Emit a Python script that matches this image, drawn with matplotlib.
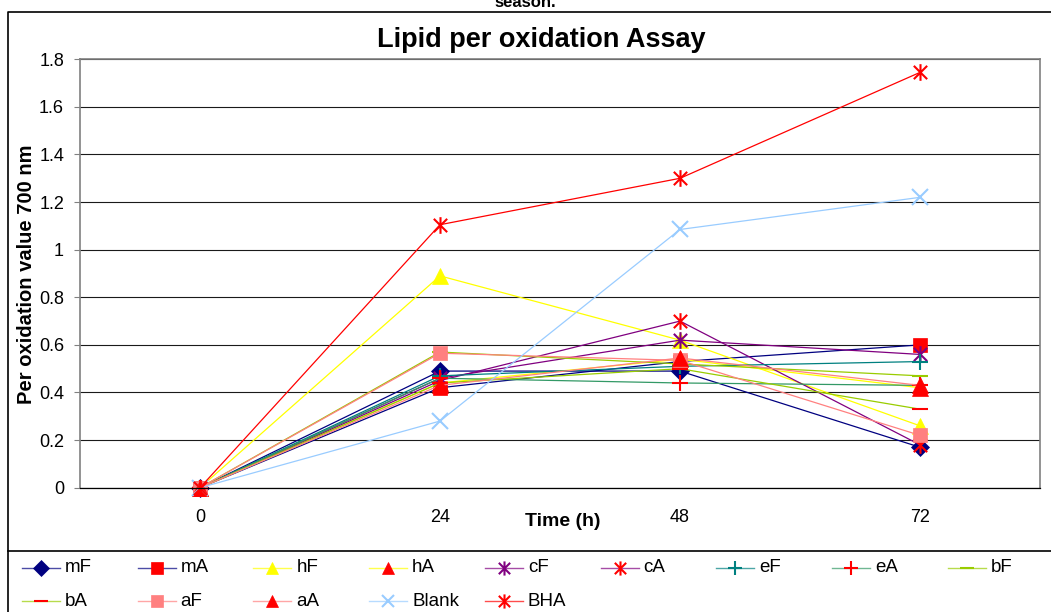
import matplotlib
matplotlib.use("Agg")
import matplotlib.pyplot as plt
from matplotlib.path import Path

plt.rcParams.update({"font.family": ["Liberation Sans", "DejaVu Sans"],
                     "font.size": 12})

# ---- data ----
times = ["0", "24", "48", "72"]
mF = [0.0, 0.49, 0.49, 0.17]
mA = [0.0, 0.42, 0.53, 0.60]
hF = [0.0, 0.89, 0.62, 0.26]
hA = [0.0, 0.44, 0.54, 0.42]
cF = [0.0, 0.46, 0.62, 0.56]
cA = [0.0, 0.45, 0.70, 0.18]
eF = [0.0, 0.47, 0.51, 0.53]
eA = [0.0, 0.46, 0.44, 0.43]
bF = [0.0, 0.57, 0.52, 0.47]
bA = [0.0, 0.44, 0.50, 0.33]
aF = [0.0, 0.565, 0.535, 0.22]
aA = [0.0, 0.43, 0.545, 0.43]
blank = [0.0, 0.28, 1.085, 1.22]
bha = [0.0, 1.105, 1.30, 1.745]

names = ["mF", "mA", "hF", "hA", "cF", "cA", "eF", "eA", "bF",
         "bA", "aF", "aA", "Blank", "BHA"]
series = [mF, mA, hF, hA, cF, cA, eF, eA, bF, bA, aF, aA, blank, bha]

# asterisk like Excel's star marker: X plus a vertical bar
STAR = Path([(-1, -1), (1, 1), (-1, 1), (1, -1), (0, -1.25), (0, 1.25)],
            [Path.MOVETO, Path.LINETO, Path.MOVETO, Path.LINETO,
             Path.MOVETO, Path.LINETO])

NAVY, YEL, PURP, TEAL, SEA = "#000080", "#FFFF00", "#800080", "#008080", "#339966"
YG, PINK, RED, LBLUE = "#99CC00", "#FF8080", "#FF0000", "#99CCFF"
# (line colour, marker, marker colour, marker size)
styles = [
    (NAVY, "D", NAVY, 9),
    (NAVY, "s", RED, 10),
    (YEL, "^", YEL, 11),
    (YEL, "^", RED, 11),
    (PURP, STAR, PURP, 12),
    (PURP, STAR, RED, 12),
    (TEAL, "+", TEAL, 12),
    (SEA, "+", RED, 12),
    (YG, "_", YG, 12),
    (YG, "_", RED, 12),
    (PINK, "s", PINK, 10),
    (PINK, "^", RED, 11),
    (LBLUE, "x", LBLUE, 11),
    (RED, STAR, RED, 12),
]


def _mew(mk):
    return 1.5 if mk in ("+", "_", "x") or mk is STAR else 0.5


W, H = 1051, 612
fig = plt.figure(figsize=(W / 100, H / 100), dpi=100)
ax = fig.add_axes([80 / W, 1 - 487.7 / H, 960 / W, (487.7 - 59.3) / H])

x = range(len(times))
for name, ys, (lc, mk, mc, ms) in zip(names, series, styles):
    ax.plot(x, ys, color=lc, lw=0.9, marker=mk, ms=ms, mfc=mc, mec=mc,
            mew=_mew(mk), label=name, clip_on=False)

ax.set_xlim(-0.5, 3.5)
ax.set_ylim(0, 1.8)
ax.set_yticks([i * 0.2 for i in range(10)])
ax.set_yticklabels(["0", "0.2", "0.4", "0.6", "0.8", "1", "1.2", "1.4",
                    "1.6", "1.8"])
ax.set_xticks(list(x))
ax.set_xticklabels(times)
ax.tick_params(axis="y", length=4.5, width=0.8, color="#808080", pad=7,
               labelsize=13)
ax.tick_params(axis="x", length=0, pad=15, labelsize=13)
ax.yaxis.grid(True, color="#1a1a1a", lw=0.8)
ax.set_axisbelow(True)
for s in ("left", "right", "top"):
    ax.spines[s].set_color("#808080")
    ax.spines[s].set_linewidth(1.2)
ax.spines["bottom"].set_color("#000000")
ax.spines["bottom"].set_linewidth(0.9)

# texts
fig.text(541 / W, 1 - 40 / H, "Lipid per oxidation Assay", ha="center",
         va="center", fontsize=19.5, fontweight="bold")
fig.text(525 / W, 1 - 7 / H, "season.", ha="center", va="baseline",
         fontsize=12, fontweight="bold")
fig.text(27 / W, 1 - 274 / H, "Per oxidation value 700 nm", rotation=90,
         ha="center", va="center", fontsize=14.5, fontweight="bold")
fig.text(563 / W, 1 - 522 / H, "Time (h)", ha="center", va="center",
         fontsize=14, fontweight="bold")

# overlay in pixel coordinates for frame and legend
ov = fig.add_axes([0, 0, 1, 1], zorder=-1)
ov.set_xlim(0, W)
ov.set_ylim(H, 0)
ov.axis("off")
ov.plot([8, 8, W], [H, 12, 12], color="#000000", lw=1.2)
ov.plot([8, W], [551, 551], color="#000000", lw=1.2)

lg = fig.add_axes([0, 0, 1, 1], zorder=3)
lg.set_xlim(0, W)
lg.set_ylim(H, 0)
lg.axis("off")
for i, (name, (lc, mk, mc, ms)) in enumerate(zip(names, styles)):
    x0 = 22 + (i % 9) * 115.7
    y0 = 568 + (i // 9) * 33
    lg.plot([x0, x0 + 38], [y0, y0], color=lc, lw=1.0, alpha=0.7)
    lg.plot([x0 + 19], [y0], marker=mk, ms=ms * 0.85, mfc=mc, mec=mc,
            mew=_mew(mk), ls="none")
    lg.text(x0 + 43, y0, name, va="center", ha="left", fontsize=13.5)

fig.savefig("out.png", dpi=100)
